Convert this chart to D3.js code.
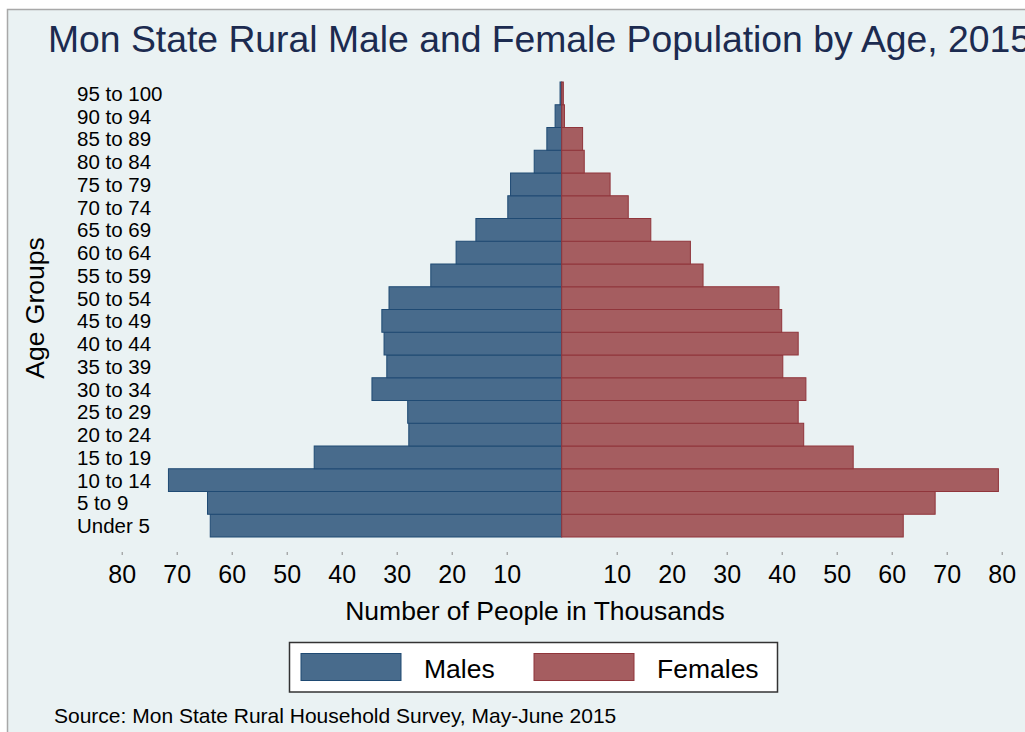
<!DOCTYPE html>
<html>
<head>
<meta charset="utf-8">
<script src="https://cdn.jsdelivr.net/npm/d3@7"></script>
<style>
  body { margin: 0; background: #ffffff; }
  svg { display: block; }
  text { font-family: Arial, "Liberation Sans", sans-serif; }
</style>
</head>
<body>
<script>
// age groups, bottom (youngest) to top (oldest)
const ageGroups = ["Under 5", "5 to 9", "10 to 14", "15 to 19", "20 to 24", "25 to 29",
  "30 to 34", "35 to 39", "40 to 44", "45 to 49", "50 to 54", "55 to 59", "60 to 64",
  "65 to 69", "70 to 74", "75 to 79", "80 to 84", "85 to 89", "90 to 94", "95 to 100"];
// thousands of people
const males = [63.9, 64.4, 71.5, 45.0, 27.8, 28.0, 34.5, 31.8, 32.3, 32.7,
  31.4, 23.8, 19.2, 15.6, 9.8, 9.3, 5.0, 2.7, 1.2, 0.3];
const females = [62.1, 67.9, 79.4, 53.0, 44.0, 43.0, 44.4, 40.2, 43.0, 40.0,
  39.5, 25.7, 23.4, 16.2, 12.1, 8.8, 4.1, 3.8, 0.5, 0.3];
const tickValues = [10, 20, 30, 40, 50, 60, 70, 80];
const seriesNames = ["Males", "Females"];

const width = 1025;
const height = 732;
const center_x = 561.7;
const half_width = 440; // 80 thousand
const plot_top = 82;
const plot_bottom = 537;
const axis_y = 552;

const bg_color = "#eaf2f3";
const male_fill = "#486b8c";
const male_stroke = "#1f4a73";
const female_fill = "#a55d60";
const female_stroke = "#90353b";

const rows = ageGroups.map((g, i) => ({ group: g, male: males[i], female: females[i] }));

const svg = d3.select("body").append("svg")
  .attr("width", width)
  .attr("height", height);

// graph region with thin grey frame (runs off the right/bottom edge)
svg.append("rect")
  .attr("x", 7.5).attr("y", 9.5)
  .attr("width", 1100).attr("height", 800)
  .attr("fill", bg_color)
  .attr("stroke", "#a8a8a8")
  .attr("stroke-width", 1.5);

const xMale = d3.scaleLinear().domain([80, 0]).range([center_x - half_width, center_x]);
const xFemale = d3.scaleLinear().domain([0, 80]).range([center_x, center_x + half_width]);
const y = d3.scaleBand()
  .domain(ageGroups.slice().reverse())
  .range([plot_top, plot_bottom])
  .padding(0);

// title (it is cut off by the right edge in the original)
svg.append("text")
  .attr("x", 48).attr("y", 52)
  .attr("font-size", 36.5)
  .attr("textLength", 983)
  .attr("lengthAdjust", "spacingAndGlyphs")
  .attr("fill", "#1c2b50")
  .text("Mon State Rural Male and Female Population by Age, 2015");

// male bars
svg.append("g").selectAll("rect")
  .data(rows)
  .join("rect")
  .attr("x", d => xMale(d.male))
  .attr("y", d => y(d.group))
  .attr("width", d => xMale(0) - xMale(d.male))
  .attr("height", y.bandwidth())
  .attr("fill", male_fill)
  .attr("stroke", male_stroke)
  .attr("stroke-width", 1);

// female bars
svg.append("g").selectAll("rect")
  .data(rows)
  .join("rect")
  .attr("x", xFemale(0))
  .attr("y", d => y(d.group))
  .attr("width", d => xFemale(d.female) - xFemale(0))
  .attr("height", y.bandwidth())
  .attr("fill", female_fill)
  .attr("stroke", female_stroke)
  .attr("stroke-width", 1);

// age group labels, left aligned
svg.append("g").selectAll("text")
  .data(ageGroups)
  .join("text")
  .attr("x", 77)
  .attr("y", d => y(d) + y.bandwidth() / 2 + 7.5)
  .attr("font-size", 20.5)
  .attr("fill", "#000")
  .text(d => d);

// y axis title
svg.append("text")
  .attr("transform", "translate(44,308) rotate(-90)")
  .attr("text-anchor", "middle")
  .attr("font-size", 26.5)
  .attr("fill", "#000")
  .text("Age Groups");

// x axes (two halves)
function styleAxis(g) {
  g.select(".domain").remove();
  g.selectAll(".tick line").attr("stroke", "#8a8a8a");
  g.selectAll(".tick text")
    .attr("dy", null)
    .attr("y", 30.7)
    .attr("font-size", 25)
    .attr("font-family", "Arial, 'Liberation Sans', sans-serif")
    .attr("fill", "#000");
}
svg.append("g")
  .attr("transform", `translate(0,${axis_y})`)
  .call(d3.axisBottom(xMale).tickValues(tickValues).tickSize(3))
  .call(styleAxis);
svg.append("g")
  .attr("transform", `translate(0,${axis_y})`)
  .call(d3.axisBottom(xFemale).tickValues(tickValues).tickSize(3))
  .call(styleAxis);

// x axis title
svg.append("text")
  .attr("x", 535).attr("y", 620)
  .attr("text-anchor", "middle")
  .attr("font-size", 26.5)
  .attr("fill", "#000")
  .text("Number of People in Thousands");

// legend
const legend = svg.append("g");
legend.append("rect")
  .attr("x", 289.5).attr("y", 642.5)
  .attr("width", 488).attr("height", 49.5)
  .attr("fill", "#ffffff")
  .attr("stroke", "#333")
  .attr("stroke-width", 1.5);

const legendItems = [
  { name: seriesNames[0], fill: male_fill, stroke: male_stroke, x: 301 },
  { name: seriesNames[1], fill: female_fill, stroke: female_stroke, x: 534 }
];
legend.selectAll("g.item")
  .data(legendItems)
  .join("g")
  .attr("class", "item")
  .each(function (d) {
    const g = d3.select(this);
    g.append("rect")
      .attr("x", d.x).attr("y", 653.5)
      .attr("width", 100).attr("height", 27)
      .attr("fill", d.fill)
      .attr("stroke", d.stroke)
      .attr("stroke-width", 1);
    g.append("text")
      .attr("x", d.x + 123).attr("y", 677.5)
      .attr("font-size", 26.5)
      .attr("fill", "#000")
      .text(d.name);
  });

// source note
svg.append("text")
  .attr("x", 54).attr("y", 722.5)
  .attr("font-size", 21)
  .attr("fill", "#000")
  .text("Source: Mon State Rural Household Survey, May-June 2015");
</script>
</body>
</html>
